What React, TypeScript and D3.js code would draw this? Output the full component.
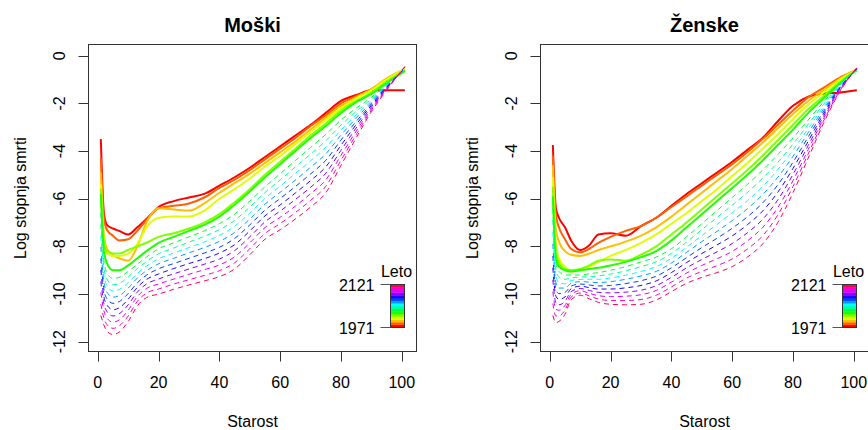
import React from 'react';
import * as d3 from 'd3';

// plotted age positions (R index 1..101)
const AGES = [1, 2, 3, 5, 7, 10, 13, 16, 20, 25, 30, 35, 40, 45, 50, 55, 60, 65, 70, 75, 80, 85, 90, 95, 101];
const YEARS = [1971, 1981, 1991, 2001, 2011, 2021, 2031, 2041, 2051, 2061, 2071, 2081, 2091, 2101, 2111, 2121];
const LAST_OBSERVED_YEAR = 2021;

// Moški (males)
const MALE_1971 = [-3.5, -6.6, -7.1, -7.25, -7.35, -7.5, -7.2, -6.85, -6.35, -6.1, -5.95, -5.8, -5.45, -5.1, -4.7, -4.25, -3.8, -3.35, -2.9, -2.4, -1.9, -1.65, -1.45, -1.45, -1.45];
const MALE_1981 = [-4.3, -6.8, -7.3, -7.55, -7.75, -7.7, -7.35, -6.9, -6.4, -6.3, -6.2, -5.95, -5.55, -5.2, -4.8, -4.35, -3.9, -3.45, -2.95, -2.5, -2.0, -1.7, -1.4, -1.0, -0.6];
const MALE_1991 = [-4.9, -7.5, -8.1, -8.35, -8.5, -8.6, -8.0, -7.0, -6.4, -6.45, -6.5, -6.2, -5.75, -5.35, -4.95, -4.5, -4.05, -3.6, -3.1, -2.6, -2.1, -1.75, -1.4, -0.95, -0.55];
const MALE_2001 = [-5.4, -7.8, -8.3, -8.4, -8.4, -8.3, -7.9, -7.2, -6.8, -6.75, -6.75, -6.5, -6.0, -5.6, -5.15, -4.65, -4.2, -3.7, -3.2, -2.7, -2.2, -1.8, -1.45, -1.0, -0.55];
const MALE_2011 = [-5.6, -7.8, -8.2, -8.3, -8.3, -8.15, -8.0, -7.85, -7.6, -7.45, -7.25, -7.0, -6.65, -6.15, -5.6, -5.0, -4.45, -3.9, -3.35, -2.85, -2.3, -1.9, -1.55, -1.1, -0.6];
const MALE_2021 = [-5.8, -8.2, -8.7, -9.0, -9.0, -8.8, -8.5, -8.2, -7.85, -7.6, -7.35, -7.1, -6.75, -6.25, -5.7, -5.1, -4.55, -4.0, -3.45, -2.95, -2.4, -1.95, -1.6, -1.15, -0.65];
const MALE_2031 = [-6.6, -8.6, -9.1, -9.35, -9.3, -9.05, -8.75, -8.45, -8.1, -7.85, -7.6, -7.35, -7.05, -6.65, -6.1, -5.5, -4.95, -4.4, -3.85, -3.3, -2.7, -2.2, -1.75, -1.2, -0.6];
const MALE_2041 = [-7.08, -8.9, -9.37, -9.61, -9.56, -9.28, -8.94, -8.64, -8.31, -8.07, -7.82, -7.58, -7.3, -6.91, -6.35, -5.74, -5.21, -4.67, -4.13, -3.57, -2.91, -2.34, -1.82, -1.23, -0.58];
const MALE_2051 = [-7.56, -9.2, -9.64, -9.87, -9.81, -9.52, -9.14, -8.83, -8.52, -8.28, -8.05, -7.82, -7.54, -7.16, -6.6, -5.99, -5.47, -4.94, -4.41, -3.84, -3.12, -2.48, -1.88, -1.26, -0.57];
const MALE_2061 = [-8.03, -9.5, -9.92, -10.13, -10.07, -9.75, -9.33, -9.02, -8.73, -8.5, -8.27, -8.05, -7.79, -7.42, -6.85, -6.23, -5.73, -5.22, -4.68, -4.12, -3.33, -2.62, -1.95, -1.28, -0.55];
const MALE_2071 = [-8.51, -9.8, -10.19, -10.39, -10.32, -9.98, -9.53, -9.21, -8.94, -8.72, -8.5, -8.28, -8.04, -7.67, -7.1, -6.48, -5.99, -5.49, -4.96, -4.39, -3.54, -2.76, -2.02, -1.31, -0.53];
const MALE_2081 = [-8.99, -10.1, -10.46, -10.66, -10.58, -10.22, -9.72, -9.39, -9.16, -8.93, -8.72, -8.52, -8.28, -7.93, -7.35, -6.72, -6.26, -5.76, -5.24, -4.66, -3.76, -2.89, -2.08, -1.34, -0.52];
const MALE_2091 = [-9.47, -10.4, -10.73, -10.92, -10.83, -10.45, -9.92, -9.58, -9.37, -9.15, -8.95, -8.75, -8.53, -8.18, -7.6, -6.97, -6.52, -6.03, -5.52, -4.93, -3.97, -3.03, -2.15, -1.37, -0.5];
const MALE_2101 = [-9.94, -10.7, -11.01, -11.18, -11.09, -10.68, -10.11, -9.77, -9.58, -9.37, -9.17, -8.98, -8.78, -8.44, -7.85, -7.21, -6.78, -6.31, -5.79, -5.21, -4.18, -3.17, -2.22, -1.39, -0.48];
const MALE_2111 = [-10.42, -11.0, -11.28, -11.44, -11.34, -10.92, -10.31, -9.96, -9.79, -9.58, -9.4, -9.22, -9.02, -8.69, -8.1, -7.46, -7.04, -6.58, -6.07, -5.48, -4.39, -3.31, -2.28, -1.42, -0.47];
const MALE_2121 = [-10.9, -11.3, -11.55, -11.7, -11.6, -11.15, -10.5, -10.15, -10.0, -9.8, -9.62, -9.45, -9.27, -8.95, -8.35, -7.7, -7.3, -6.85, -6.35, -5.75, -4.6, -3.45, -2.35, -1.45, -0.45];

// Ženske (females)
const FEMALE_1971 = [-3.75, -6.4, -6.8, -7.2, -7.75, -8.15, -7.95, -7.5, -7.45, -7.55, -7.15, -6.8, -6.3, -5.8, -5.35, -4.9, -4.45, -3.95, -3.45, -2.75, -2.1, -1.72, -1.6, -1.55, -1.45];
const FEMALE_1981 = [-4.2, -6.7, -7.2, -7.7, -8.1, -8.25, -8.1, -7.85, -7.6, -7.35, -7.15, -6.8, -6.35, -5.9, -5.45, -5.0, -4.55, -4.05, -3.5, -2.9, -2.3, -1.75, -1.35, -0.95, -0.6];
const FEMALE_1991 = [-4.6, -7.3, -7.8, -8.2, -8.35, -8.4, -8.3, -8.15, -8.0, -7.8, -7.55, -7.2, -6.75, -6.25, -5.75, -5.25, -4.75, -4.2, -3.65, -3.05, -2.45, -1.9, -1.45, -1.0, -0.55];
const FEMALE_2001 = [-5.1, -7.9, -8.5, -8.85, -9.05, -9.0, -8.85, -8.65, -8.4, -8.15, -7.85, -7.5, -7.05, -6.6, -6.1, -5.6, -5.05, -4.5, -3.9, -3.3, -2.65, -2.05, -1.55, -1.05, -0.6];
const FEMALE_2011 = [-5.5, -8.2, -8.7, -8.95, -9.0, -8.95, -8.8, -8.6, -8.55, -8.6, -8.35, -8.0, -7.5, -7.0, -6.45, -5.9, -5.35, -4.8, -4.2, -3.55, -2.9, -2.25, -1.7, -1.15, -0.6];
const FEMALE_2021 = [-5.9, -8.5, -8.85, -9.0, -9.05, -9.0, -8.95, -8.9, -8.8, -8.65, -8.45, -8.2, -7.75, -7.2, -6.65, -6.1, -5.55, -5.0, -4.4, -3.75, -3.1, -2.4, -1.8, -1.2, -0.6];
const FEMALE_2031 = [-6.4, -8.7, -9.05, -9.2, -9.2, -9.2, -9.15, -9.1, -9.0, -8.85, -8.65, -8.45, -8.1, -7.6, -7.05, -6.5, -5.95, -5.4, -4.8, -4.15, -3.45, -2.7, -1.95, -1.25, -0.6];
const FEMALE_2041 = [-6.9, -8.98, -9.28, -9.38, -9.32, -9.29, -9.27, -9.24, -9.16, -9.03, -8.85, -8.65, -8.3, -7.82, -7.3, -6.79, -6.27, -5.74, -5.14, -4.47, -3.71, -2.88, -2.05, -1.29, -0.59];
const FEMALE_2051 = [-7.4, -9.26, -9.52, -9.57, -9.43, -9.39, -9.38, -9.38, -9.32, -9.21, -9.05, -8.85, -8.5, -8.03, -7.55, -7.08, -6.59, -6.08, -5.49, -4.78, -3.96, -3.06, -2.15, -1.33, -0.58];
const FEMALE_2061 = [-7.9, -9.53, -9.75, -9.75, -9.55, -9.48, -9.5, -9.52, -9.48, -9.38, -9.24, -9.05, -8.7, -8.25, -7.8, -7.37, -6.92, -6.42, -5.83, -5.1, -4.22, -3.23, -2.25, -1.37, -0.57];
const FEMALE_2071 = [-8.4, -9.81, -9.98, -9.93, -9.67, -9.58, -9.62, -9.66, -9.64, -9.56, -9.44, -9.25, -8.9, -8.47, -8.05, -7.66, -7.24, -6.76, -6.18, -5.42, -4.47, -3.41, -2.35, -1.41, -0.56];
const FEMALE_2081 = [-8.9, -10.09, -10.22, -10.12, -9.78, -9.67, -9.73, -9.79, -9.79, -9.74, -9.64, -9.45, -9.1, -8.68, -8.3, -7.94, -7.56, -7.09, -6.52, -5.73, -4.73, -3.59, -2.45, -1.44, -0.54];
const FEMALE_2091 = [-9.4, -10.37, -10.45, -10.3, -9.9, -9.77, -9.85, -9.93, -9.95, -9.92, -9.84, -9.65, -9.3, -8.9, -8.55, -8.23, -7.88, -7.43, -6.87, -6.05, -4.98, -3.77, -2.55, -1.48, -0.53];
const FEMALE_2101 = [-9.9, -10.64, -10.68, -10.48, -10.02, -9.86, -9.97, -10.07, -10.11, -10.09, -10.03, -9.85, -9.5, -9.12, -8.8, -8.52, -8.21, -7.77, -7.21, -6.37, -5.24, -3.94, -2.65, -1.52, -0.52];
const FEMALE_2111 = [-10.4, -10.92, -10.92, -10.67, -10.13, -9.96, -10.08, -10.21, -10.27, -10.27, -10.23, -10.05, -9.7, -9.33, -9.05, -8.81, -8.53, -8.11, -7.56, -6.68, -5.49, -4.12, -2.75, -1.56, -0.51];
const FEMALE_2121 = [-10.9, -11.2, -11.15, -10.85, -10.25, -10.05, -10.2, -10.35, -10.43, -10.45, -10.43, -10.25, -9.9, -9.55, -9.3, -9.1, -8.85, -8.45, -7.9, -7.0, -5.75, -4.3, -2.85, -1.6, -0.5];

const MALE = [MALE_1971, MALE_1981, MALE_1991, MALE_2001, MALE_2011, MALE_2021, MALE_2031, MALE_2041, MALE_2051, MALE_2061, MALE_2071, MALE_2081, MALE_2091, MALE_2101, MALE_2111, MALE_2121];
const FEMALE = [FEMALE_1971, FEMALE_1981, FEMALE_1991, FEMALE_2001, FEMALE_2011, FEMALE_2021, FEMALE_2031, FEMALE_2041, FEMALE_2051, FEMALE_2061, FEMALE_2071, FEMALE_2081, FEMALE_2091, FEMALE_2101, FEMALE_2111, FEMALE_2121];

const X_TICKS = [0, 20, 40, 60, 80, 100];
const Y_TICKS = [0, -2, -4, -6, -8, -10, -12];
const TITLES = ['Moški', 'Ženske'];
const X_LABEL = 'Starost';
const Y_LABEL = 'Log stopnja smrti';
const LEGEND_TITLE = 'Leto';

const FONT = "'Liberation Sans', Arial, sans-serif";

const colorScale = d3
  .scaleLinear<number>()
  .domain([YEARS[0], YEARS[YEARS.length - 1]])
  .range([0, 337.5]);
const yearColor = (yr: number) => d3.hsl(colorScale(yr), 1, 0.5).formatHex();

function Panel({ dx, title, series }: { dx: number; title: string; series: number[][] }) {
  const boxL = 88.5 + dx;
  const boxR = 416.5 + dx;
  const boxT = 44.5;
  const boxB = 351.5;
  const x = d3.scaleLinear().domain([0, 100]).range([97.8 + dx, 401.8 + dx]);
  const y = d3.scaleLinear().domain([0, -12]).range([55.7, 341.7]);
  const line = d3
    .line<number>()
    .x((_, i) => x(AGES[i]))
    .y((d) => y(d))
    .curve(d3.curveMonotoneX);

  const barL = 390.5 + dx;
  const barR = 404.5 + dx;
  const barT = 284.5;
  const barB = 327.5;
  const bandYears = YEARS;
  const bandH = (barB - barT) / bandYears.length;

  return (
    <g>
      <text x={(boxL + boxR) / 2} y={32} textAnchor="middle" fontWeight="bold" fontSize={20} fontFamily={FONT}>
        {title}
      </text>
      <g>
        {series.map((vals, i) => {
          const yr = YEARS[i];
          const observed = yr <= LAST_OBSERVED_YEAR;
          return (
            <path
              key={yr}
              d={line(vals) || ''}
              fill="none"
              stroke={yearColor(yr)}
              strokeWidth={observed ? 2 : 1}
              strokeDasharray={observed ? undefined : '5,4'}
            />
          );
        })}
      </g>
      <rect x={boxL} y={boxT} width={boxR - boxL} height={boxB - boxT} fill="none" stroke="#333" strokeWidth={1} />
      {X_TICKS.map((t) => (
        <g key={t}>
          <line x1={Math.round(x(t)) + 0.5} x2={Math.round(x(t)) + 0.5} y1={boxB} y2={boxB + 10} stroke="#333" />
          <text x={x(t)} y={388} textAnchor="middle" fontSize={16} fontFamily={FONT}>
            {String(t)}
          </text>
        </g>
      ))}
      {Y_TICKS.map((t) => (
        <g key={t}>
          <line x1={boxL - 10} x2={boxL} y1={Math.round(y(t)) + 0.5} y2={Math.round(y(t)) + 0.5} stroke="#333" />
          <text
            transform={`translate(${boxL - 23.5},${y(t)}) rotate(-90)`}
            textAnchor="middle"
            fontSize={16}
            fontFamily={FONT}
          >
            {String(t)}
          </text>
        </g>
      ))}
      <text x={(boxL + boxR) / 2} y={427} textAnchor="middle" fontSize={16} fontFamily={FONT}>
        {X_LABEL}
      </text>
      <text
        transform={`translate(${boxL - 63},${(boxT + boxB) / 2}) rotate(-90)`}
        textAnchor="middle"
        fontSize={16}
        fontFamily={FONT}
      >
        {Y_LABEL}
      </text>
      {/* legend */}
      <text x={(barL + barR) / 2 - 1} y={277} textAnchor="middle" fontSize={16} fontFamily={FONT}>
        {LEGEND_TITLE}
      </text>
      {bandYears.map((yr, i) => (
        <rect
          key={yr}
          x={barL}
          y={barB - (i + 1) * bandH}
          width={barR - barL}
          height={bandH + 0.3}
          fill={yearColor(yr)}
        />
      ))}
      <rect x={barL} y={barT} width={barR - barL} height={barB - barT} fill="none" stroke="#333" />
      <line x1={barL - 10} x2={barL} y1={barT} y2={barT} stroke="#555" />
      <line x1={barL - 10} x2={barL} y1={barB} y2={barB} stroke="#555" />
      <text x={barL - 16} y={barT + 6} textAnchor="end" fontSize={16} fontFamily={FONT}>
        {String(YEARS[YEARS.length - 1])}
      </text>
      <text x={barL - 16} y={barB + 6} textAnchor="end" fontSize={16} fontFamily={FONT}>
        {String(YEARS[0])}
      </text>
    </g>
  );
}

export default function App() {
  return (
    <svg
      width={868}
      height={430}
      style={{ position: 'absolute', left: 0, top: 0, background: '#fff' }}
    >
      <rect x={0} y={0} width={868} height={430} fill="#fff" />
      <Panel dx={0} title={TITLES[0]} series={MALE} />
      <Panel dx={452} title={TITLES[1]} series={FEMALE} />
    </svg>
  );
}
